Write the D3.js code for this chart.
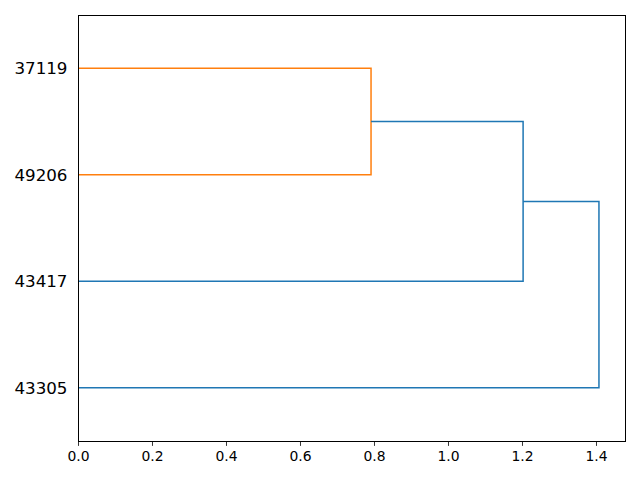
<!DOCTYPE html>
<html>
<head>
<meta charset="utf-8">
<script src="https://cdn.jsdelivr.net/npm/d3@7"></script>
<style>
  body { margin: 0; background: #fff; }
  text { font-family: "DejaVu Sans", sans-serif; }
</style>
</head>
<body>
<svg width="640" height="480"></svg>
<script>
// leaves, bottom to top (scipy leaf positions 5, 15, 25, 35)
const leaves = ["43305", "43417", "49206", "37119"];
const leafPos = [5, 15, 25, 35];

// merges: [left item, right item, distance, colour]; items index leaves (0..3) or previous merges (4..)
const merges = [
  [3, 2, 0.792, "#ff7f0e"],
  [4, 1, 1.203, "#1f77b4"],
  [5, 0, 1.408, "#1f77b4"]
];
const xTicks = [0.0, 0.2, 0.4, 0.6, 0.8, 1.0, 1.2, 1.4];

const margin = {l: 78, r: 15, t: 15, b: 39};
let svg = d3.select("svg"),
  width = 640 - margin.l - margin.r,
  height = 480 - margin.t - margin.b;

let g = svg.append("g").attr("transform", `translate(${margin.l},${margin.t})`);

let x = d3.scaleLinear().domain([0, 1.408 * 1.05]).range([0, width]);
let y = d3.scaleLinear().domain([0, leaves.length * 10]).range([height, 0]);

// node positions: [pos, height]
let nodes = leafPos.map(p => ({pos: p, h: 0}));
merges.forEach(m => {
  const a = nodes[m[0]], b = nodes[m[1]];
  nodes.push({pos: (a.pos + b.pos) / 2, h: m[2]});
  const pts = [[a.h, a.pos], [m[2], a.pos], [m[2], b.pos], [b.h, b.pos]];
  g.append("path")
    .attr("d", d3.line().x(d => x(d[0])).y(d => y(d[1]))(pts))
    .attr("fill", "none")
    .attr("stroke", m[3])
    .attr("stroke-width", 1.5);
});

// x axis
let xa = g.append("g").attr("transform", `translate(0,${height})`)
  .call(d3.axisBottom(x).tickValues(xTicks).tickFormat(d3.format(".1f")).tickSizeOuter(0).tickSize(4.9));
xa.selectAll("text").attr("font-size", 13.9).attr("fill", "#000").attr("dy", "0.76em").attr("y", 9.5);
xa.selectAll("line").attr("stroke", "#000").attr("stroke-width", 0.8);
xa.select(".domain").remove();

// y labels
g.selectAll("text.leaf")
  .data(leaves)
  .enter()
  .append("text")
    .attr("class", "leaf")
    .attr("x", -10.5)
    .attr("y", (d, i) => y(leafPos[i]))
    .attr("dy", "0.36em")
    .attr("text-anchor", "end")
    .attr("font-size", 16.7)
    .attr("fill", "#000")
    .text(d => d);

// frame
g.append("rect")
  .attr("width", width).attr("height", height)
  .attr("fill", "none").attr("stroke", "#000").attr("stroke-width", 1)
  .attr("shape-rendering", "crispEdges");
</script>
</body>
</html>
